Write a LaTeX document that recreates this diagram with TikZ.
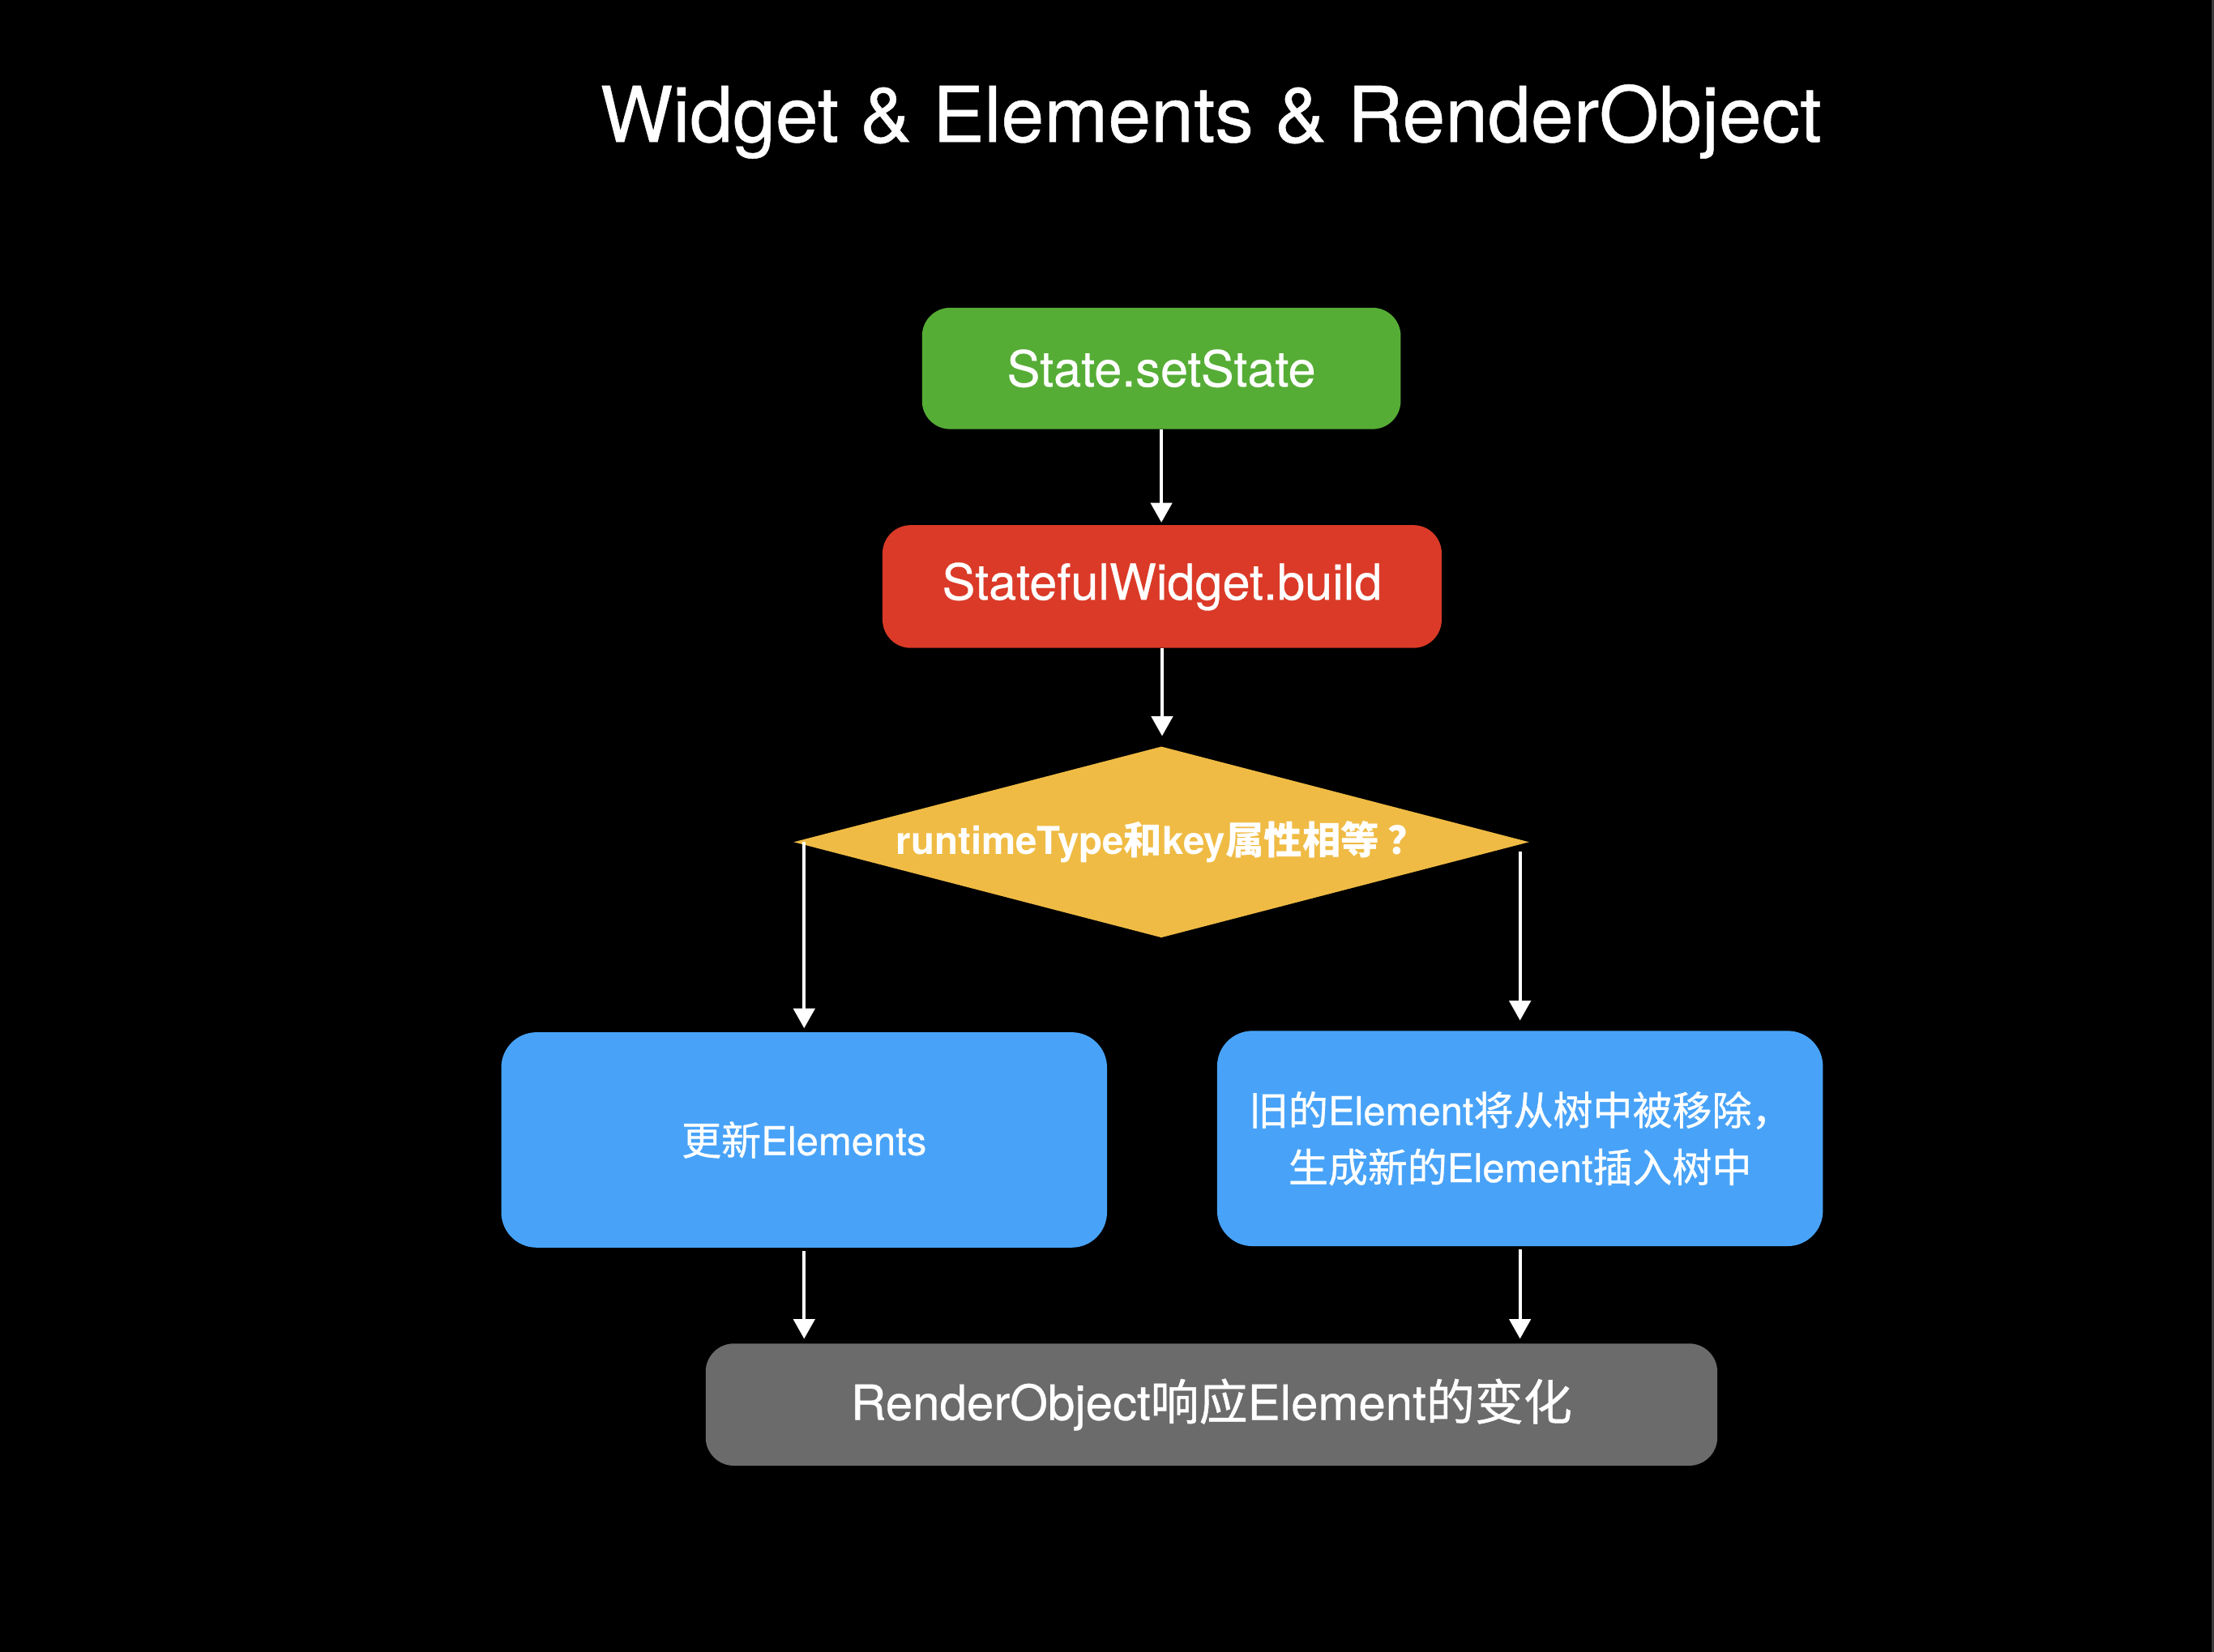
\documentclass[tikz,border=0pt]{standalone}
\usepackage{fontspec}
\setmainfont{TeX Gyre Heros}
\newfontfamily\medfont{TeX Gyre Heros}[FakeBold=0.5]
\newfontfamily\cjkfont{Noto Sans CJK SC}
\newfontfamily\cjkmed{Noto Sans CJK SC}[FakeBold=0.8]
\newcommand{\zh}[1]{{\cjkmed #1}}
\newcommand{\zhb}[1]{{\cjkfont #1}}
\usepackage{tikz}
\usetikzlibrary{arrows.meta,shapes.geometric}
\definecolor{boxgreen}{HTML}{56AD36}
\definecolor{boxred}{HTML}{DB3A28}
\definecolor{boxyellow}{HTML}{EFBB44}
\definecolor{boxblue}{HTML}{48A3F8}
\definecolor{boxgray}{HTML}{6B6B6B}
\definecolor{edgegray}{HTML}{3A3A3A}
\tikzset{flowbox/.style={rectangle,rounded corners=0.4cm,text=white,inner sep=0pt,font=\medfont\fontsize{20}{24}\selectfont},
bluebox/.style={flowbox,fill=boxblue,minimum width=8.58cm,minimum height=3.05cm,rounded corners=0.5cm,align=center,font=\medfont\fontsize{16}{23}\selectfont},
decision/.style={diamond,aspect=3.84,fill=boxyellow,text=white,inner sep=0pt,minimum width=10.42cm,minimum height=2.71cm,font=\bfseries\fontsize{15.5}{18}\selectfont},
flowarrow/.style={white,line width=1.4pt,-{Triangle[width=0.3cm,length=0.28cm]}}}

\begin{document}
\begin{tikzpicture}
\fill[black] (0,0) rectangle (31.36,23.4);
\fill[edgegray] (31.32,0) rectangle (31.36,23.4);
\node[text=white,anchor=base,font=\medfont\fontsize{31}{36}\selectfont] (title) at (17.15,21.39) {Widget \& Elements \& RenderObject};

\node[flowbox,fill=boxgreen,minimum width=6.78cm,minimum height=1.72cm] (start) at (16.45,18.18) {State.setState};
\node[flowbox,fill=boxred,minimum width=7.92cm,minimum height=1.74cm] (build) at (16.46,15.09) {StatefulWidget.build};
\node[decision] (cond) at (16.45,11.47) {runtimeType\zhb{和}key\zhb{属性相等 ？}};
\node[bluebox] (update) at (11.39,7.25) {\zh{更新}Elements};
\node[bluebox] (replace) at (21.53,7.27) {\zh{旧的}Element\zh{将从树中被移除，}\\\zh{生成新的}Element\zh{插入树中}};
\node[flowbox,fill=boxgray,minimum width=14.33cm,minimum height=1.73cm,font=\medfont\fontsize{19.6}{24}\selectfont] (render) at (17.16,3.50) {RenderObject\zh{响应}Element\zh{的变化}};

\draw[flowarrow,shorten >=0.03cm] (start.south) -- (start.south |- build.north);
\draw[flowarrow,shorten >=0.14cm] (build.south) -- (build.south |- cond.north);
\draw[flowarrow,shorten >=0.05cm] (update.north |- cond.west) -- (update.north);
\draw[flowarrow,shorten <=0.13cm,shorten >=0.14cm] (replace.north |- cond.east) -- (replace.north);
\foreach \src in {update,replace}{
\draw[flowarrow,shorten <=0.04cm,shorten >=0.06cm] (\src.south) -- (\src.south |- render.north);
}
\end{tikzpicture}
\end{document}
